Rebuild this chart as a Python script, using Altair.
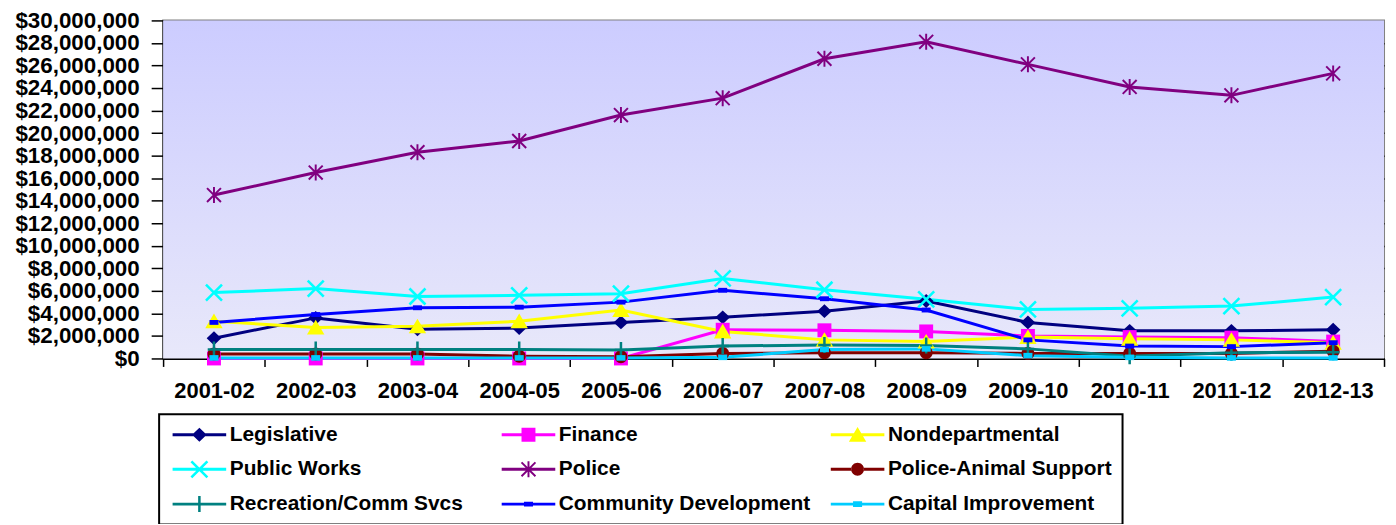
import altair as alt
import pandas as pd

FONT = "Liberation Sans"

periods = ["2001-02", "2002-03", "2003-04", "2004-05", "2005-06", "2006-07",
           "2007-08", "2008-09", "2009-10", "2010-11", "2011-12", "2012-13"]

series_names = ["Legislative", "Finance", "Nondepartmental",
                "Public Works", "Police", "Police-Animal Support",
                "Recreation/Comm Svcs", "Community Development", "Capital Improvement"]
series_colors = ["#000080", "#ff00ff", "#ffff00",
                 "#00ffff", "#800080", "#800000",
                 "#008080", "#0000ff", "#00ccff"]

# values in millions of dollars
legislative = [1.8, 3.6, 2.6, 2.7, 3.2, 3.65, 4.2, 5.1, 3.2, 2.45, 2.45, 2.55]
finance = [0.0, 0.0, 0.0, 0.0, 0.0, 2.55, 2.5, 2.4, 2.0, 1.9, 1.85, 1.5]
nondepartmental = [3.3, 2.75, 2.85, 3.3, 4.3, 2.4, 1.65, 1.5, 1.9, 1.75, 1.65, 1.4]
public_works = [5.85, 6.2, 5.5, 5.6, 5.75, 7.1, 6.1, 5.25, 4.35, 4.45, 4.65, 5.45]
police = [14.5, 16.5, 18.3, 19.3, 21.6, 23.1, 26.6, 28.1, 26.1, 24.1, 23.35, 25.3]
animal_support = [0.4, 0.4, 0.4, 0.2, 0.15, 0.45, 0.5, 0.5, 0.45, 0.45, 0.45, 0.65]
recreation = [0.8, 0.8, 0.8, 0.8, 0.75, 1.1, 1.2, 1.15, 0.85, 0.2, 0.5, 0.55]
community_dev = [3.2, 3.9, 4.5, 4.55, 5.0, 6.05, 5.3, 4.3, 1.65, 1.1, 1.05, 1.4]
capital = [0.05, 0.05, 0.05, 0.05, 0.05, 0.1, 0.8, 0.85, 0.25, 0.1, 0.05, 0.05]

y_ticks = [i * 2000000 for i in range(16)]

all_series = [legislative, finance, nondepartmental, public_works, police,
              animal_support, recreation, community_dev, capital]

rows = []
for name, vals in zip(series_names, all_series):
    for p, v in zip(periods, vals):
        rows.append({"series": name, "period": p, "value": v * 1e6})
df = pd.DataFrame(rows)

W, H = 1228, 340

# marker shapes (unit square paths)
diamond = "M0,-1L1.05,0L0,1L-1.05,0Z"
square = "M-1,-1H1V1H-1Z"
triangle = "M0,-1.1L1.25,1L-1.25,1Z"
xmark = ("M-1.28,-1.02L1.02,1.28L1.28,1.02L-1.02,-1.28Z"
         "M-1.02,1.28L1.28,-1.02L1.02,-1.28L-1.28,1.02Z")
asterisk = ("M-1.1,-0.9L0.9,1.1L1.1,0.9L-0.9,-1.1Z"
            "M-0.9,1.1L1.1,-0.9L0.9,-1.1L-1.1,0.9Z"
            "M-0.14,-1.15V1.15H0.14V-1.15Z")
circle = "M-0.93,0A0.93,0.93,0,1,0,0.93,0A0.93,0.93,0,1,0,-0.93,0Z"
plus = "M-0.18,-1.15H0.18V1.15H-0.18ZM-0.9,-0.18H0.9V0.18H-0.9Z"
dash_small = "M-0.65,-0.35H0.65V0.35H-0.65Z"
dash_cap = "M-0.65,-0.4H0.65V0.4H-0.65Z"

marker_paths = [diamond, square, triangle, xmark, asterisk, circle, plus, dash_small, dash_cap]

line_pos = "M-3.85,-0.21H3.85V0.21H-3.85Z"
line_neg = "M-3.85,-0.21V0.21H3.85V-0.21Z"
line_split = "M-3.85,-0.21H-0.9V0.21H-3.85ZM0.9,-0.21H3.85V0.21H0.9Z"
legend_paths = [line_pos + diamond, line_pos + square, line_pos + triangle,
                line_neg + xmark, line_neg + asterisk, line_split + circle,
                line_pos + plus, line_pos + dash_small, line_pos + dash_cap]

x_enc = alt.X(
    "period:N", sort=periods,
    scale=alt.Scale(type="band", paddingInner=0, paddingOuter=0),
    axis=alt.Axis(title=None, labelAngle=0, tickBand="extent", tickSize=8,
                  labelPadding=14, domainWidth=2, tickWidth=1.5,
                  labelFontSize=22, labelFont=FONT, labelFontWeight="bold",
                  labelColor="black", domainColor="black", tickColor="black",
                  grid=False),
)
y_enc = alt.Y(
    "value:Q",
    scale=alt.Scale(domain=[0, 30000000], nice=False),
    axis=alt.Axis(title=None, values=y_ticks, format="$,.0f", tickSize=12,
                  labelPadding=12, labelFontSize=22.5, labelFont=FONT,
                  labelFontWeight="bold", labelColor="black",
                  domainColor="black", domainWidth=2, tickColor="black",
                  tickWidth=1.5, grid=True, gridWidth=1.5,
                  gridColor={"condition": {"test": "datum.value >= 30000000", "value": "#808080"},
                             "value": "black"}),
)

gradient = alt.LinearGradient(
    gradient="linear",
    stops=[alt.GradientStop(color="#ccccff", offset=0),
           alt.GradientStop(color="#e8e8fa", offset=1)],
    x1=0, x2=0, y1=0, y2=1,
)

background = alt.Chart(pd.DataFrame({"a": [0]})).mark_rect(fill=gradient).encode(
    x=alt.value(0), x2=alt.value(W), y=alt.value(0), y2=alt.value(H),
)

lines = alt.Chart(df).mark_line(strokeWidth=3).encode(
    x=x_enc, y=y_enc,
    color=alt.Color("series:N", scale=alt.Scale(domain=series_names, range=series_colors), legend=None),
)

points = alt.Chart(df).mark_point(filled=True, size=196, opacity=1, strokeWidth=0).encode(
    x=x_enc, y=y_enc,
    color=alt.Color("series:N", scale=alt.Scale(domain=series_names, range=series_colors), legend=None),
    shape=alt.Shape("series:N", scale=alt.Scale(domain=series_names, range=marker_paths), legend=None),
)

legend_def = alt.Legend(
    title=None, orient="none", legendX=-4, legendY=396, columns=3, gridAlign="all",
    direction="horizontal",
    labelFont=FONT, labelFontSize=21, labelFontWeight="bold", labelColor="black",
    labelLimit=600, symbolSize=196, symbolStrokeWidth=0, symbolOpacity=1,
    symbolOffset=20, labelOffset=20, padding=10, rowPadding=13, columnPadding=16,
    strokeColor="black",
)

legend_layer = alt.Chart(df).transform_filter("false").mark_point(filled=True, size=196, opacity=1).encode(
    x=x_enc, y=y_enc,
    color=alt.Color("series:N", scale=alt.Scale(domain=series_names, range=series_colors), legend=legend_def),
    shape=alt.Shape("series:N", scale=alt.Scale(domain=series_names, range=legend_paths), legend=legend_def),
)

chart = alt.layer(background, lines, points, legend_layer).resolve_scale(
    color="independent", shape="independent"
).properties(
    width=W, height=H,
    autosize=alt.AutoSizeParams(type="none"),
    padding={"left": 156, "top": 11, "right": 4, "bottom": 165},
    background="white",
).configure_view(
    stroke="#808080", strokeWidth=2,
).configure_legend(
    strokeWidth=2,
)

chart.save("out.html", embed_options={"renderer": "svg", "actions": False})
